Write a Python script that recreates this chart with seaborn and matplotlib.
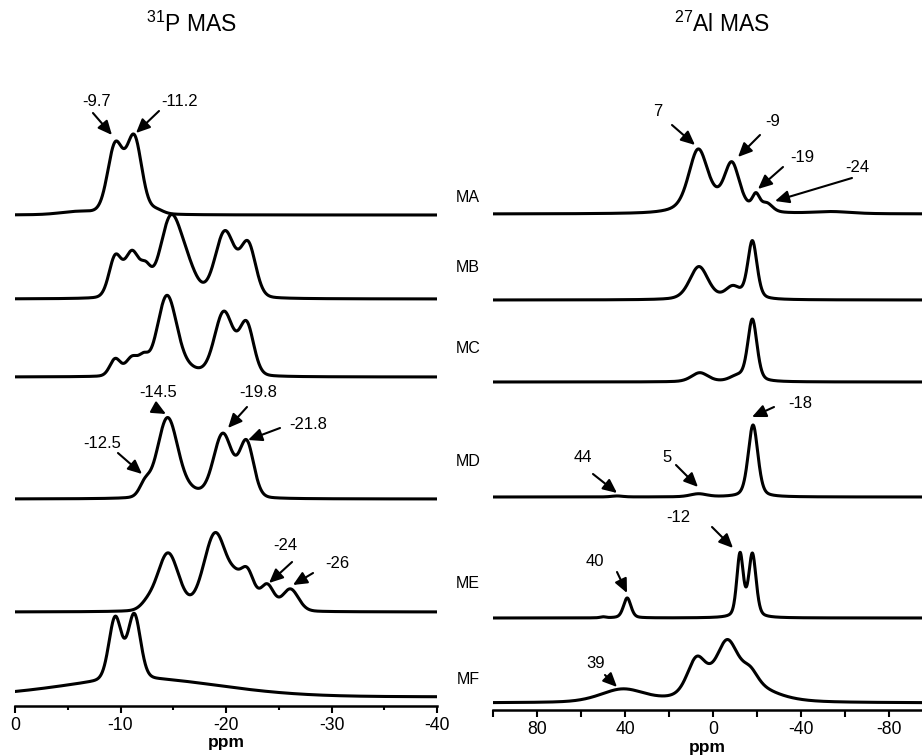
import numpy as np
import pandas as pd
import matplotlib
matplotlib.use("Agg")
import matplotlib.pyplot as plt
import seaborn as sns
from matplotlib.ticker import MultipleLocator, FixedLocator, NullFormatter

# ---------------- data ----------------
samples = ["MA", "MB", "MC", "MD", "ME", "MF"]

# 31P MAS peaks: (position ppm, height, FWHM ppm)
p31_MA = [(-6.0, 3, 4.0), (-9.5, 68, 1.7), (-11.3, 76, 1.7), (-13.4, 4, 1.5)]
p31_MB = [(-9.5, 40, 1.4), (-11.1, 44, 1.6), (-12.4, 22, 1.2), (-14.75, 78, 2.4),
          (-16.4, 22, 2.2), (-19.9, 66, 2.2), (-22.1, 52, 1.7)]
p31_MC = [(-9.5, 17, 1.2), (-11.1, 18, 1.4), (-12.2, 14, 1.1), (-14.4, 80, 2.2),
          (-16.5, 6, 2.5), (-19.8, 64, 2.1), (-21.95, 51, 1.6)]
p31_MD = [(-12.3, 12, 1.2), (-14.45, 80, 2.3), (-16.6, 6, 2.5),
          (-19.7, 64, 2.1), (-21.95, 55, 1.6)]
p31_ME = [(-12.5, 5, 1.5), (-14.5, 58, 2.4), (-19.0, 78, 2.6), (-20.8, 14, 1.4),
          (-22.0, 38, 1.6), (-23.9, 25, 1.5), (-26.1, 22, 1.8)]
p31_MF = [(-9.5, 62, 1.4), (-11.3, 64, 1.4), (-12.0, 18, 18.0)]

# 27Al MAS peaks: (position ppm, height, FWHM ppm)
al27_MA = [(6.8, 56, 10.0), (-8.6, 43, 8.0), (0.0, 10, 25.0), (-19.5, 15, 4.0),
           (-24.5, 8, 6.0), (-54.0, 2, 20.0)]
al27_MB = [(6.4, 33, 10.0), (-9.0, 12, 8.0), (-17.9, 58, 5.0)]
al27_MC = [(6.0, 9, 9.0), (-11.0, 5, 8.0), (-17.9, 62, 5.0)]
al27_MD = [(43.6, 1, 6.0), (6.6, 3, 9.0), (-18.2, 72, 5.2)]
al27_ME = [(50.0, 1, 3.0), (39.0, 20, 4.0), (-12.3, 63, 3.5), (-17.9, 63, 4.0)]
al27_MF = [(41.0, 13, 24.0), (7.5, 34, 10.0), (-6.4, 40, 11.0), (-17.0, 12, 8.0),
           (-10.0, 22, 32.0)]

p31_peaks = [p31_MA, p31_MB, p31_MC, p31_MD, p31_ME, p31_MF]
al27_peaks = [al27_MA, al27_MB, al27_MC, al27_MD, al27_ME, al27_MF]

p31_ticks = [0, -10, -20, -30, -40]
al27_ticks = [80, 40, 0, -40, -80]

p31_notes = ["-9.7", "-11.2", "-14.5", "-12.5", "-19.8", "-21.8", "-24", "-26"]
al27_notes = ["7", "-9", "-19", "-24", "-18", "44", "5", "-12", "40", "39"]

# ---------------- layout (positions, not data) ----------------
p31_offsets = [491, 407, 329, 207, 94, 9]
al27_offsets = [496, 410, 328, 213, 92, 7]
# (text x, text y, arrow start x, y, arrow tip x, y) in data coords
p31_note_pos = [(-7.77, 605, -7.39, 593, -9.19, 571),
                (-15.64, 605, -13.65, 595, -11.47, 573),
                (-13.55, 314, -13.27, 298, -14.31, 292),
                (-8.25, 263, -9.76, 253, -12.04, 232),
                (-23.03, 314, -21.99, 299, -20.19, 278),
                (-27.77, 282, -25.12, 278, -22.09, 266),
                (-25.59, 160, -26.26, 144, -24.08, 123),
                (-30.52, 142, -28.25, 133, -26.35, 121)]
al27_note_pos = [(25.0, 599, 18.64, 585, 8.18, 565),
                 (-27.27, 589, -21.36, 575, -11.36, 553),
                 (-40.45, 552, -31.82, 543, -20.45, 521),
                 (-65.45, 543, -63.18, 532, -28.18, 509),
                 (-39.55, 307, -27.73, 303, -17.73, 293),
                 (59.09, 252, 54.55, 236, 43.64, 217),
                 (20.91, 253, 16.82, 245, 6.82, 223),
                 (15.91, 192, 0.45, 183, -9.09, 162),
                 (53.64, 148, 43.64, 138, 39.09, 117),
                 (53.18, 47, 49.09, 35, 43.64, 23)]
label_y_px = [197, 268, 348, 461, 583, 680]

W, H = 922, 755
ETA_P = 0.15
ETA_AL = 0.35


def spectrum(ppm, peaks, eta):
    y = np.zeros_like(ppm)
    for c, h, w in peaks:
        g = np.exp(-4 * np.log(2) * ((ppm - c) / w) ** 2)
        l = 1.0 / (1.0 + 4 * ((ppm - c) / w) ** 2)
        y += h * (eta * l + (1 - eta) * g)
    return y


rows = []
ppm_p = np.linspace(0, -40, 1601)
ppm_a = np.linspace(100, -95, 1951)
for s, pk, off in zip(samples, p31_peaks, p31_offsets):
    rows.append(pd.DataFrame({"nuc": "P", "sample": s, "ppm": ppm_p,
                              "y": spectrum(ppm_p, pk, ETA_P) + off}))
for s, pk, off in zip(samples, al27_peaks, al27_offsets):
    rows.append(pd.DataFrame({"nuc": "Al", "sample": s, "ppm": ppm_a,
                              "y": spectrum(ppm_a, pk, ETA_AL) + off}))
df = pd.concat(rows, ignore_index=True)

sns.set_style("ticks")
plt.rcParams["font.family"] = ["Liberation Sans", "DejaVu Sans"]
plt.rcParams["mathtext.fontset"] = "custom"
plt.rcParams["mathtext.rm"] = "Liberation Sans"
plt.rcParams["mathtext.default"] = "regular"
plt.rcParams["text.color"] = "black"
plt.rcParams["axes.labelcolor"] = "black"
plt.rcParams["xtick.color"] = "black"
plt.rcParams["axes.edgecolor"] = "black"

fig = plt.figure(figsize=(W / 100, H / 100), dpi=100)
top_px = 60
axP = fig.add_axes([15 / W, 1 - 706 / H, 422 / W, (706 - top_px) / H])
axA = fig.add_axes([493 / W, 1 - 710 / H, 429 / W, (710 - top_px) / H])

LW = 2.2
for ax, nuc in ((axP, "P"), (axA, "Al")):
    for s in samples:
        d = df[(df.nuc == nuc) & (df["sample"] == s)]
        sns.lineplot(data=d, x="ppm", y="y", ax=ax, color="black", lw=LW,
                     sort=False, estimator=None, legend=False)

axP.set_xlim(0, -40)
axP.set_ylim(0, 706 - top_px)
axA.set_xlim(100, -95)
axA.set_ylim(0, 710 - top_px)

for ax, lp in ((axP, 1.0), (axA, 1.5)):
    sns.despine(ax=ax, left=True, top=True, right=True)
    ax.spines["bottom"].set_linewidth(1.8)
    ax.set_yticks([])
    ax.set_ylabel("")
    ax.set_xlabel("ppm", fontsize=12.5, fontweight="bold", labelpad=lp)
    ax.tick_params(axis="x", which="both", direction="out", width=1.5,
                   labelsize=12.7, pad=3, color="black", labelcolor="black")

axP.xaxis.set_major_locator(FixedLocator(p31_ticks))
axP.set_xticklabels([str(t) for t in p31_ticks])
axP.xaxis.set_minor_locator(MultipleLocator(5))
axP.tick_params(axis="x", which="major", length=5)
axP.tick_params(axis="x", which="minor", length=3)

axA.xaxis.set_major_locator(FixedLocator(al27_ticks))
axA.set_xticklabels([str(t) for t in al27_ticks])
axA.xaxis.set_minor_locator(MultipleLocator(20))
axA.xaxis.set_minor_formatter(NullFormatter())
axA.tick_params(axis="x", which="both", length=5)

arrow_kw = dict(arrowstyle="-|>,head_length=0.7,head_width=0.32", color="black",
                lw=1.5, mutation_scale=12, shrinkA=0, shrinkB=0)
for ax, notes, pos in ((axP, p31_notes, p31_note_pos), (axA, al27_notes, al27_note_pos)):
    for t, (tx, ty, sx, sy, hx, hy) in zip(notes, pos):
        ax.text(tx, ty, t, ha="center", va="center", fontsize=12)
        ax.annotate("", xy=(hx, hy), xytext=(sx, sy), arrowprops=arrow_kw)

for s, yp in zip(samples, label_y_px):
    fig.text(468 / W, 1 - yp / H, s, ha="center", va="center", fontsize=11.5)

fig.text(191 / W, 1 - 24 / H, r"$^{31}$P MAS", ha="center", va="center", fontsize=16.5)
fig.text(722 / W, 1 - 24 / H, r"$^{27}$Al MAS", ha="center", va="center", fontsize=16.5)

fig.savefig("out.png", dpi=100)
